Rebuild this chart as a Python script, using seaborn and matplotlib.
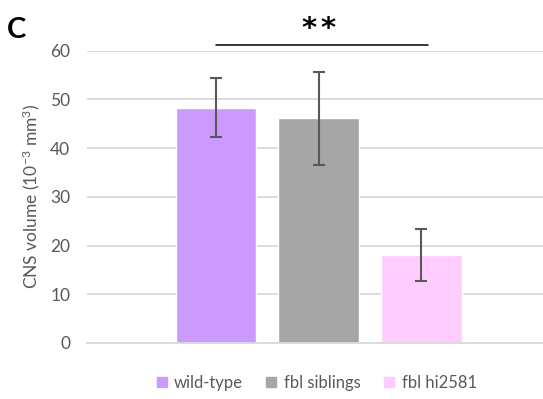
import matplotlib
matplotlib.use("Agg")
import matplotlib.pyplot as plt
from matplotlib.lines import Line2D
import seaborn as sns
import pandas as pd

# CNS volume per genotype (10^-3 mm^3), mean and error
groups = ["wild-type", "fbl siblings", "fbl hi2581"]
means = [48.3, 46.1, 18.0]
errors = [6.0, 9.6, 5.3]
colors = ["#CC99FF", "#A6A6A6", "#FFCCFF"]
yticks = [0, 10, 20, 30, 40, 50, 60]

sns.set_theme(style="white")
plt.rcParams["font.family"] = ["Lato", "DejaVu Sans"]
plt.rcParams["mathtext.default"] = "regular"

df = pd.DataFrame({"group": groups, "volume": means})

fig = plt.figure(figsize=(5.43, 3.99), dpi=100)
ax = fig.add_axes([0.160, 0.1404, 0.840, 0.7329])

sns.barplot(data=df, x="group", y="volume", hue="group", palette=colors,
            order=groups, hue_order=groups, width=0.786, dodge=False,
            legend=False, ax=ax, errorbar=None, saturation=1)

ax.errorbar(range(len(groups)), means, yerr=errors, fmt="none",
            ecolor="#595959", elinewidth=1.5, capsize=4, capthick=1.5, zorder=5)

ax.set_xlim(-1.257, 3.186)
ax.set_ylim(0, 60)
ax.set_yticks(yticks)
ax.set_yticklabels([str(v) for v in yticks])
ax.yaxis.grid(True, color="#D9D9D9", linewidth=1.3)
ax.set_axisbelow(True)
for side in ["top", "right", "left"]:
    ax.spines[side].set_visible(False)
ax.spines["bottom"].set_color("#D9D9D9")
ax.spines["bottom"].set_linewidth(1.3)
ax.set_xticks([])
ax.set_xlabel("")
ax.tick_params(axis="y", length=0, labelsize=12.5, labelcolor="#595959", pad=12)
ax.set_ylabel("CNS volume (10$^{-3}$ mm$^{3}$)", fontsize=12.5, color="#595959", labelpad=6)

# significance bar between wild-type and fbl hi2581
ax.plot([0.0, 2.07], [61.2, 61.2], color="black", linewidth=1.1, clip_on=False)
for dx in (-0.093, 0.093):
    ax.text(1.0 + dx, 64.5, "*", ha="center", va="center", fontsize=21,
            fontweight="bold", family="DejaVu Sans", color="black", clip_on=False)

fig.text(0.012, 0.925, "C", fontsize=21, fontweight="bold", color="black",
         ha="left", va="center")

handles = [Line2D([0], [0], marker="s", linestyle="none", markersize=6.5,
                  markerfacecolor=c, markeredgecolor=c) for c in colors]
fig.legend(handles, groups, loc="center", bbox_to_anchor=(0.58, 0.04), ncol=3,
           frameon=False, fontsize=12, labelcolor="#595959", handletextpad=0.25,
           columnspacing=1.2, handlelength=1.0)

fig.savefig("out.png", dpi=100)
